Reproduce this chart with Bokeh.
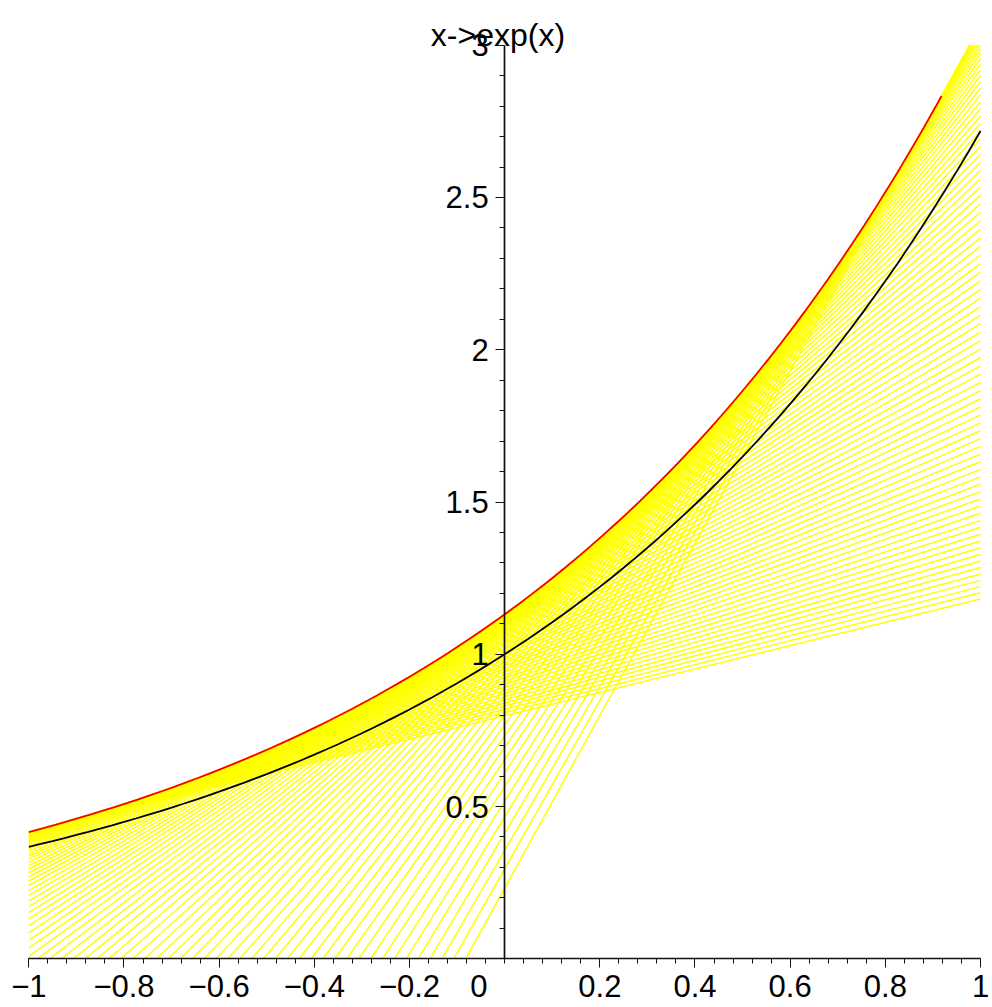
from bokeh.plotting import figure
from bokeh.models import Range1d, FixedTicker, Label, LinearAxis
from bokeh.embed import file_html
from bokeh.resources import INLINE

title_text = "x->exp(x)"
origin_text = "0"

# samples of the curve x -> exp(x), every 0.025 from -1.5 to 1.5
grid_x = [
    -1.5, -1.475, -1.45, -1.425, -1.4, -1.375, -1.35, -1.325, -1.3, -1.275,
    -1.25, -1.225, -1.2, -1.175, -1.15, -1.125, -1.1, -1.075, -1.05, -1.025,
    -1.0, -0.975, -0.95, -0.925, -0.9, -0.875, -0.85, -0.825, -0.8, -0.775,
    -0.75, -0.725, -0.7, -0.675, -0.65, -0.625, -0.6, -0.575, -0.55, -0.525,
    -0.5, -0.475, -0.45, -0.425, -0.4, -0.375, -0.35, -0.325, -0.3, -0.275,
    -0.25, -0.225, -0.2, -0.175, -0.15, -0.125, -0.1, -0.075, -0.05, -0.025,
    0.0, 0.025, 0.05, 0.075, 0.1, 0.125, 0.15, 0.175, 0.2, 0.225,
    0.25, 0.275, 0.3, 0.325, 0.35, 0.375, 0.4, 0.425, 0.45, 0.475,
    0.5, 0.525, 0.55, 0.575, 0.6, 0.625, 0.65, 0.675, 0.7, 0.725,
    0.75, 0.775, 0.8, 0.825, 0.85, 0.875, 0.9, 0.925, 0.95, 0.975,
    1.0, 1.025, 1.05, 1.075, 1.1, 1.125, 1.15, 1.175, 1.2, 1.225,
    1.25, 1.275, 1.3, 1.325, 1.35, 1.375, 1.4, 1.425, 1.45, 1.475,
    1.5,
]
grid_y = [
    0.22313, 0.22878, 0.23457, 0.24051, 0.24660, 0.25284, 0.25924, 0.26580, 0.27253, 0.27943,
    0.28650, 0.29376, 0.30119, 0.30882, 0.31664, 0.32465, 0.33287, 0.34130, 0.34994, 0.35880,
    0.36788, 0.37719, 0.38674, 0.39653, 0.40657, 0.41686, 0.42741, 0.43823, 0.44933, 0.46070,
    0.47237, 0.48432, 0.49659, 0.50916, 0.52205, 0.53526, 0.54881, 0.56270, 0.57695, 0.59156,
    0.60653, 0.62189, 0.63763, 0.65377, 0.67032, 0.68729, 0.70469, 0.72253, 0.74082, 0.75957,
    0.77880, 0.79852, 0.81873, 0.83946, 0.86071, 0.88250, 0.90484, 0.92774, 0.95123, 0.97531,
    1.00000, 1.02532, 1.05127, 1.07788, 1.10517, 1.13315, 1.16183, 1.19125, 1.22140, 1.25232,
    1.28403, 1.31653, 1.34986, 1.38403, 1.41907, 1.45499, 1.49182, 1.52959, 1.56831, 1.60801,
    1.64872, 1.69046, 1.73325, 1.77713, 1.82212, 1.86825, 1.91554, 1.96403, 2.01375, 2.06473,
    2.11700, 2.17059, 2.22554, 2.28188, 2.33965, 2.39888, 2.45960, 2.52187, 2.58571, 2.65117,
    2.71828, 2.78710, 2.85765, 2.92999, 3.00417, 3.08022, 3.15819, 3.23814, 3.32012, 3.40417,
    3.49034, 3.57870, 3.66930, 3.76219, 3.85743, 3.95508, 4.05520, 4.15786, 4.26311, 4.37104,
    4.48169,
]

# shown part of the curve: from x = -1 to x = 1 (grid indices 20..100)
curve_first, curve_last = 20, 100
# yellow secants: secant k joins grid point k and grid point k + secant_span
secant_span = 40
secant_count = 81

# viewing window of the plot
view_x = (-1.0, 1.0)
view_y = (0.0, 3.0)

x_ticks = [-1.0, -0.8, -0.6, -0.4, -0.2, 0.2, 0.4, 0.6, 0.8, 1.0]
x_tick_labels = ["\u22121", "\u22120.8", "\u22120.6", "\u22120.4", "\u22120.2",
                 "0.2", "0.4", "0.6", "0.8", "1"]
y_ticks = [0.5, 1.0, 1.5, 2.0, 2.5, 3.0]
y_tick_labels = ["0.5", "1", "1.5", "2", "2.5", "3"]
x_minor = [round(-1 + 0.04 * i, 2) for i in range(51)]
y_minor = [round(0.1 * i, 1) for i in range(31)]

FONT = "Liberation Sans"


def clip_polyline(px, py, x0, x1):
    """Keep the part of a polyline with x0 <= x <= x1 (cut at the window edge)."""
    ox, oy = [], []
    for i in range(len(px)):
        if x0 <= px[i] <= x1:
            if not ox and i > 0 and px[i - 1] < x0:
                f = (x0 - px[i - 1]) / (px[i] - px[i - 1])
                ox.append(x0)
                oy.append(py[i - 1] + f * (py[i] - py[i - 1]))
            ox.append(px[i])
            oy.append(py[i])
    return ox, oy


p = figure(width=992, height=1007,
           x_range=Range1d(-1.0595, 1.0252), y_range=Range1d(-0.1599, 3.1468),
           output_backend="svg", toolbar_location=None,
           x_axis_location=None, y_axis_location=None, min_border=0)
p.outline_line_color = None
p.xgrid.visible = False
p.ygrid.visible = False
p.background_fill_color = "white"
p.border_fill_color = "white"

# secant lines, cut to the viewing window
xs, ys, slopes, intercepts = [], [], [], []
for k in range(secant_count):
    xa, ya = grid_x[k], grid_y[k]
    xb, yb = grid_x[k + secant_span], grid_y[k + secant_span]
    s = (yb - ya) / (xb - xa)
    b = ya - s * xa
    slopes.append(s)
    intercepts.append(b)
    lo = max(view_x[0], (view_y[0] - b) / s)
    hi = min(view_x[1], (view_y[1] - b) / s)
    if hi > lo:
        xs.append([lo, hi])
        ys.append([b + s * lo, b + s * hi])
p.multi_line(xs, ys, line_color="#FFFF00", line_width=1.5)

# envelope of the secants: crossing points of neighbouring secants,
# ending at the touching point of the last secant (half a step further)
env_x, env_y = [], []
for k in range(secant_count - 1):
    xe = (intercepts[k + 1] - intercepts[k]) / (slopes[k] - slopes[k + 1])
    env_x.append(xe)
    env_y.append(slopes[k] * xe + intercepts[k])
x_end = env_x[-1] + (env_x[-1] - env_x[-2]) / 2
env_x.append(x_end)
env_y.append(slopes[-1] * x_end + intercepts[-1])
env_x, env_y = clip_polyline(env_x, env_y, view_x[0], view_x[1])
p.line(env_x, env_y, line_color="#FF0000", line_width=1.8)

p.line(grid_x[curve_first:curve_last + 1], grid_y[curve_first:curve_last + 1],
       line_color="black", line_width=1.8)

xaxis = LinearAxis(fixed_location=0, bounds=view_x,
                   ticker=FixedTicker(ticks=x_ticks, minor_ticks=x_minor),
                   major_label_overrides={t: l for t, l in zip(x_ticks, x_tick_labels)})
yaxis = LinearAxis(fixed_location=0, bounds=view_y,
                   ticker=FixedTicker(ticks=y_ticks, minor_ticks=y_minor),
                   major_label_overrides={t: l for t, l in zip(y_ticks, y_tick_labels)})
for ax in (xaxis, yaxis):
    ax.axis_line_color = "#111111"
    ax.axis_line_width = 1.7
    ax.major_tick_line_color = "#111111"
    ax.minor_tick_line_color = "#111111"
    ax.major_tick_in = 0
    ax.major_tick_out = 9
    ax.minor_tick_in = 0
    ax.minor_tick_out = 5
    ax.major_label_text_font = FONT
    ax.major_label_text_font_size = "31px"
    ax.major_label_text_color = "black"
xaxis.major_label_standoff = 7
yaxis.major_label_standoff = 7
p.add_layout(xaxis, "below")
p.add_layout(yaxis, "left")

p.add_layout(Label(x=-0.014, y=3.032, text=title_text, text_align="center",
                   text_baseline="alphabetic", text_font=FONT, text_font_size="32px",
                   text_color="black"))
p.add_layout(Label(x=-0.054, y=-0.0877, text=origin_text, text_align="center",
                   text_baseline="alphabetic", text_font=FONT, text_font_size="31px",
                   text_color="black"))

open("out.html", "w").write(file_html(p, INLINE))
